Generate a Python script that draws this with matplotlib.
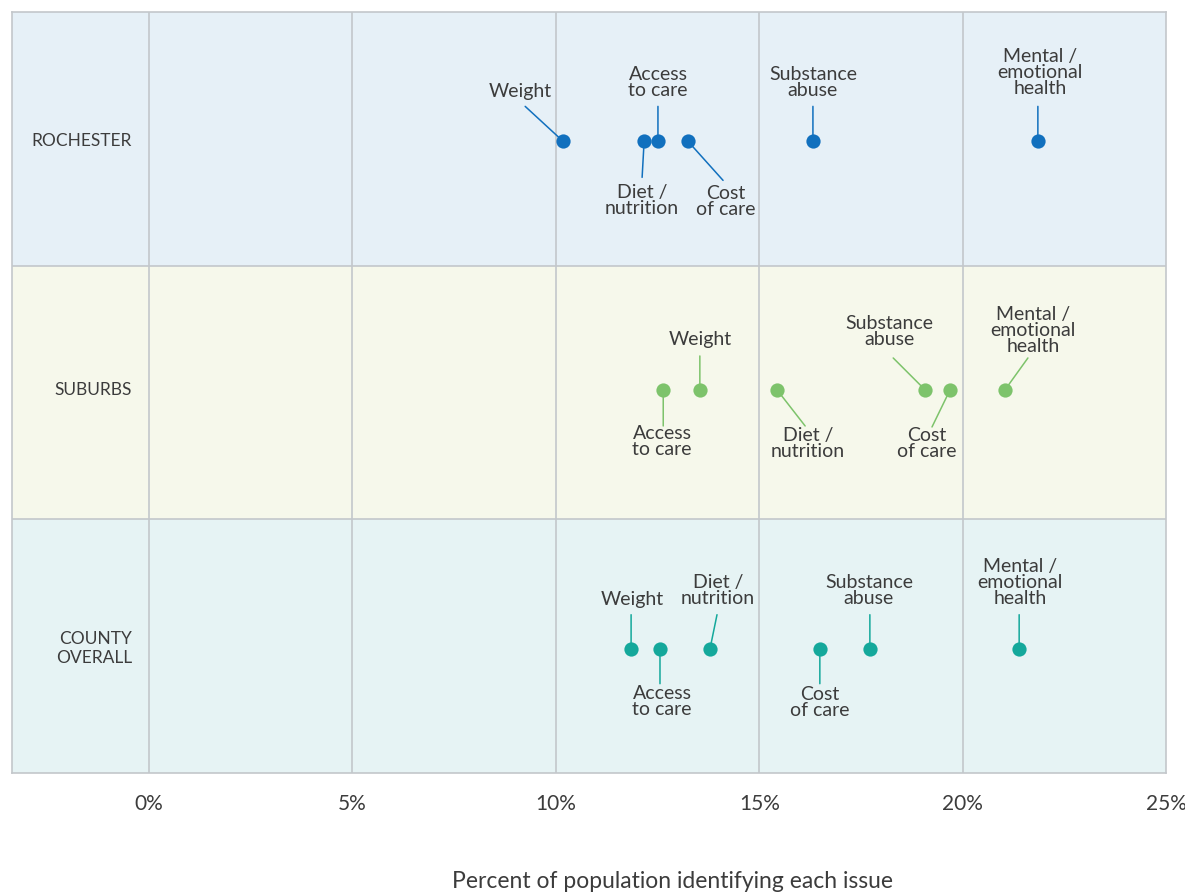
import matplotlib.pyplot as plt

plt.rcParams['font.family'] = ['Lato', 'DejaVu Sans']

# datos
regions = ['ROCHESTER', 'SUBURBS', 'COUNTY\nOVERALL']
issues = ['Weight', 'Diet /\nnutrition', 'Access\nto care', 'Cost\nof care',
          'Substance\nabuse', 'Mental /\nemotional\nhealth']
rochester = [10.18, 12.17, 12.51, 13.25, 16.32, 21.85]
suburbs = [13.54, 15.44, 12.64, 19.69, 19.08, 21.04]
county = [11.85, 13.79, 12.56, 16.49, 17.72, 21.39]
ticks = [0, 5, 10, 15, 20, 25]
tick_labels = ['0%', '5%', '10%', '15%', '20%', '25%']
xlabel = 'Percent of population identifying each issue'

values = [rochester, suburbs, county]
colors = ['#1170be', '#7dc36b', '#14a89b']
bgs = ['#e6f0f7', '#f6f8eb', '#e6f3f4']
rows_y = [2.5, 1.5, 0.5]
dots_y = [2.49, 1.51, 0.49]
txt = '#3c3c3c'

# posicion de etiqueta (dx, dy) y del inicio de la linea, en pixeles desde el punto
# orden: Weight, Diet, Access, Cost, Substance, Mental
label_off = [
    [(-43, 50), (-2, -59), (0, 59), (38, -60), (0, 59), (2, 69)],
    [(0, 50), (31, -54), (-1, -52), (-23, -54), (-36, 58), (28, 59)],
    [(1, 49), (8, 58), (2, -53), (0, -54), (-1, 58), (1, 66)],
]
line_off = [
    [(-38, 35), (-2, -36), (0, 35), (35, -39), (0, 35), (0, 35)],
    [(0, 34), (28, -36), (0, -36), (-18, -37), (-32, 32), (23, 32)],
    [(0, 34), (7, 34), (0, -35), (0, -35), (0, 34), (0, 34)],
]

fig = plt.figure(figsize=(11.85, 8.92), dpi=100)
ax = fig.add_axes([12 / 1185, 119 / 892, 1154 / 1185, 761 / 892])
ax.set_xlim(-3.37, 25)
ax.set_ylim(0, 3)

for i in range(3):
    ax.axhspan(rows_y[i] - 0.5, rows_y[i] + 0.5, color=bgs[i], zorder=0, lw=0)
for y in [1, 2]:
    ax.axhline(y, color='#c3c7cb', lw=1.2, zorder=1)
for t in ticks[:-1]:
    ax.axvline(t, color='#c3c7cb', lw=1.2, zorder=1)

for i in range(3):
    c = colors[i]
    for j in range(len(issues)):
        x = values[i][j]
        y = dots_y[i]
        ax.annotate('', xy=(x, y), xytext=line_off[i][j], textcoords='offset pixels',
                    arrowprops=dict(arrowstyle='-', color=c, lw=1.1, shrinkA=0, shrinkB=0),
                    zorder=2)
        ax.scatter([x], [y], s=105, color=c, zorder=3, linewidths=0)
        ax.annotate(issues[j], xy=(x, y), xytext=label_off[i][j],
                    textcoords='offset pixels', ha='center', va='center',
                    fontsize=14, color=txt, linespacing=0.93, zorder=4)
    ax.text(-0.42, dots_y[i], regions[i], ha='right', va='center', fontsize=12.5,
            color=txt, linespacing=1.25)

ax.set_xticks(ticks)
ax.set_xticklabels(tick_labels, fontsize=15, color=txt)
ax.tick_params(axis='x', length=0, pad=15)
ax.set_yticks([])
for s in ax.spines.values():
    s.set_color('#c3c7cb')
    s.set_linewidth(1.2)

fig.text(672 / 1185, 1 - 881 / 892, xlabel, ha='center', va='center', fontsize=16.5,
         color=txt)

fig.savefig('out.png', dpi=100)
